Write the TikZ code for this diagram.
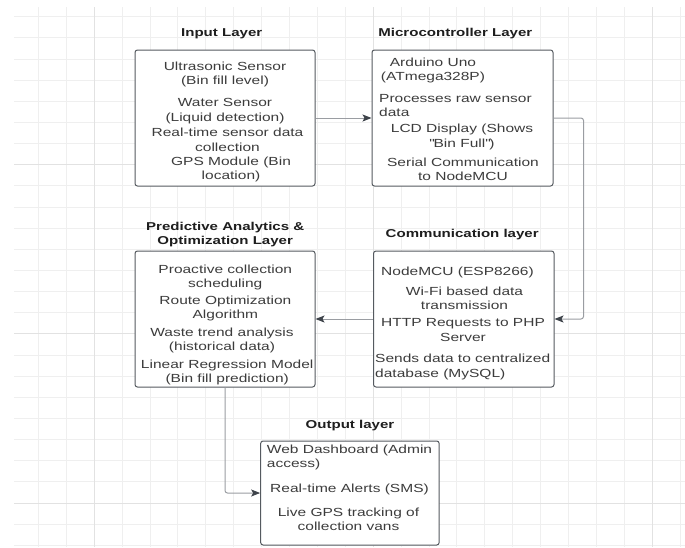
\documentclass[tikz,border=0pt]{standalone}
\usepackage{fontspec}
\setmainfont{Liberation Sans}[FakeStretch=1.32]
\usetikzlibrary{arrows.meta}
\definecolor{gridc}{HTML}{EFEFEF}
\definecolor{gridd}{HTML}{E2E2E2}
\definecolor{boxc}{HTML}{555A60}
\definecolor{txtc}{HTML}{3C3C3C}
\definecolor{ttlc}{HTML}{1E1E1E}
\definecolor{linec}{HTML}{9A9DA2}
\definecolor{tipc}{HTML}{3E434A}
\begin{document}
\begin{tikzpicture}[x=1pt,y=-1pt,
  layerbox/.style={draw=boxc, fill=white, line width=1pt, rounded corners=2.5pt, inner sep=0pt},
  body/.style={text=txtc, font=\fontsize{11.75}{14.3}\selectfont, inner sep=0pt, align=center},
  lbody/.style={body, align=left, anchor=west},
  ttl/.style={text=ttlc, font=\fontsize{11.4}{14.3}\selectfont\bfseries, inner sep=0pt, align=center},
  conn/.style={draw=linec, line width=1pt, rounded corners=2.5pt,
    -{Stealth[length=9pt,width=7pt,inset=2pt,color=tipc]}}]
\useasboundingbox (0,0) rectangle (685,547);
\fill[white] (0,0) rectangle (685,547);
% grid
\foreach \k in {0,...,23} {\draw[gridc, line width=0.8pt] ({38.3+27.9*\k},7) -- ({38.3+27.9*\k},547);}
\foreach \k in {0,...,25} {\draw[gridc, line width=0.8pt] (14,{16.7+21.14*\k}) -- (685,{16.7+21.14*\k});}
\foreach \k in {2,12,22} {\draw[gridd, line width=0.8pt] ({38.3+27.9*\k},7) -- ({38.3+27.9*\k},547);}
\foreach \k in {7,15,23} {\draw[gridd, line width=0.8pt] (14,{16.7+21.14*\k}) -- (685,{16.7+21.14*\k});}

% boxes
\node[layerbox, minimum width=180pt, minimum height=136pt] (in) at (225,118) {};
\node[layerbox, minimum width=181pt, minimum height=136pt] (mc) at (462.5,118) {};
\node[layerbox, minimum width=180pt, minimum height=136pt] (pa) at (225,319) {};
\node[layerbox, minimum width=180.5pt, minimum height=136pt] (cm) at (463.75,319) {};
\node[layerbox, minimum width=178.5pt, minimum height=104pt] (out) at (349.9,493) {};

% titles
\node[ttl] (t1) at (221.7,34) {Input Layer};
\node[ttl] (t2) at (455.3,34) {Microcontroller Layer};
\node[ttl] (t3) at (225.2,234.5) {Predictive Analytics \&\\Optimization Layer};
\node[ttl] (t4) at (462.2,235) {Communication layer};
\node[ttl] (t5) at (350,426) {Output layer};

% input layer
\node[body] (i1) at (225,74.5) {Ultrasonic Sensor\\(Bin fill level)};
\node[body] (i2) at (225,111.2) {Water Sensor\\(Liquid detection)};
\node[body] (i3) at (227.5,139.7) {Real-time sensor data\\collection};
\node[body] (i4) at (231,169.3) {GPS Module (Bin\\location)};

% microcontroller layer
\node[body] (m1) at (433,70.3) {Arduino Uno\\(ATmega328P)};
\node[lbody] (m2) at (379,105.5) {Processes raw sensor\\data};
\node[body] (m3) at (462,137) {LCD Display (Shows\\\textquotedbl Bin Full\textquotedbl)};
\node[body] (m4) at (463,169.2) {Serial Communication\\to NodeMCU};

% communication layer
\node[body] (c1) at (457.5,272.3) {NodeMCU (ESP8266)};
\node[body] (c2) at (464.5,298.3) {Wi-Fi based data\\transmission};
\node[body] (c3) at (463,330) {HTTP Requests to PHP\\Server};
\node[lbody] (c4) at (375,367) {Sends data to centralized\\database (MySQL)};

% predictive layer
\node[body] (p1) at (225.3,277.3) {Proactive collection\\scheduling};
\node[body] (p2) at (225.4,308.7) {Route Optimization\\Algorithm};
\node[body] (p3) at (222,340.7) {Waste trend analysis\\(historical data)};
\node[body] (p4) at (227.2,372.3) {Linear Regression Model\\(Bin fill prediction)};

% output layer
\node[lbody] (o1) at (266.7,457.3) {Web Dashboard (Admin\\access)};
\node[body] (o2) at (349.5,489) {Real-time Alerts (SMS)};
\node[body] (o3) at (348.5,519.5) {Live GPS tracking of\\collection vans};

% connectors
\draw[conn] (in.east) -- (mc.west);
\draw[conn] (mc.east) -- ++(30,0) |- (cm.east);
\draw[conn] (cm.west) -- (pa.east);
\draw[conn] (pa.south) |- (out.west);
\end{tikzpicture}
\end{document}
